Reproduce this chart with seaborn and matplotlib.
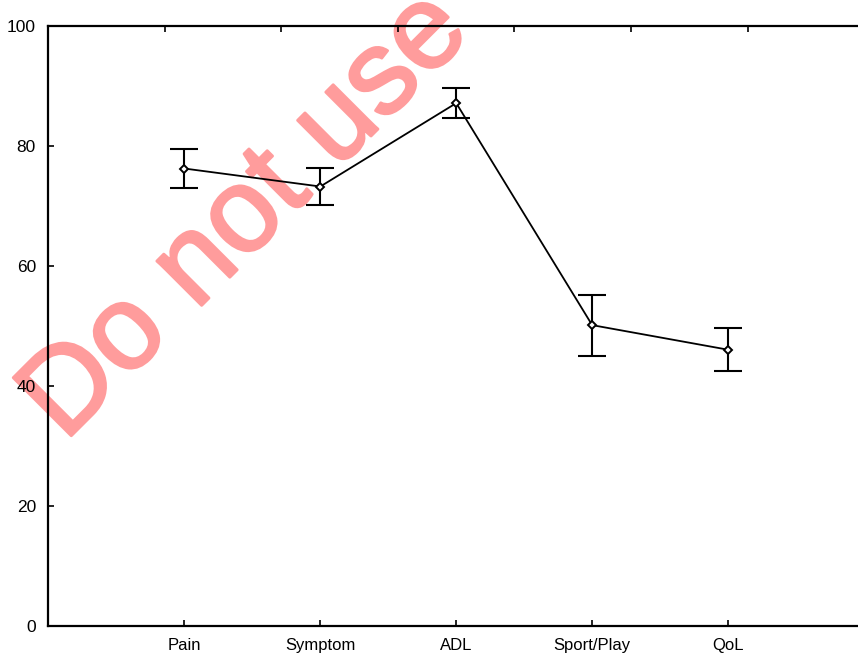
import numpy as np
import pandas as pd
import matplotlib
matplotlib.use('Agg')
import matplotlib.pyplot as plt
import matplotlib.patheffects as pe
import seaborn as sns

# values
domains = ['Pain', 'Symptom', 'ADL', 'Sport/Play', 'QoL']
means = [76.2, 73.2, 87.1, 50.1, 46.0]
upper = [79.5, 76.3, 89.7, 55.1, 49.7]
lower = [73.0, 70.1, 84.7, 45.0, 42.4]

sns.set_style('white')
plt.rcParams['font.family'] = ['Liberation Sans', 'DejaVu Sans']

df = pd.DataFrame({'domain': domains, 'score': means})

fig = plt.figure(figsize=(8.58, 6.53), dpi=100)
ax = fig.add_axes([0.0565, 0.0418, 0.9505, 0.9188])
ax.patch.set_visible(False)

# watermark sits under the plot
fig.text(0.075, 0.322, 'Do not use', rotation=45, rotation_mode='anchor',
         ha='left', va='baseline', fontsize=86, color='#ff9c9c', zorder=-1,
         path_effects=[pe.withStroke(linewidth=2, foreground='#ff9c9c')])

sns.pointplot(data=df, x='domain', y='score', order=domains, errorbar=None,
              color='black', markers='D', linestyles='-', linewidth=1.3,
              markersize=4.5, ax=ax)
for ln in ax.lines:
    ln.set_markerfacecolor('white')
    ln.set_markeredgecolor('black')
    ln.set_markeredgewidth(1.4)
    ln.set_zorder(4)

pos = np.arange(len(domains))
err = [np.array(means) - np.array(lower), np.array(upper) - np.array(means)]
ax.errorbar(pos, means, yerr=err, fmt='none', ecolor='black', elinewidth=1.5,
            capsize=10, capthick=1.5, zorder=3)

ax.set_xlim(-1, 5)
ax.set_ylim(0, 100)
ax.set_yticks([0, 20, 40, 60, 80, 100])
ax.set_xticks(pos)
ax.set_xticklabels(domains)
ax.set_xlabel('')
ax.set_ylabel('')

for side in ['left', 'bottom', 'top']:
    ax.spines[side].set_visible(True)
    ax.spines[side].set_color('black')
    ax.spines[side].set_linewidth(1.6)
ax.spines['right'].set_visible(False)

ax.tick_params(axis='both', direction='in', length=4, width=1.2, colors='black',
               labelsize=12.5, left=True, bottom=True)
ax.tick_params(axis='y', pad=9)
ax.tick_params(axis='x', pad=9, labelsize=12)

# top axis has its own ticks, 7 equal divisions
top = ax.twiny()
top.set_xlim(0, 7)
top.set_xticks(range(1, 7))
top.tick_params(axis='x', direction='in', length=4, width=1.2, top=True,
                labeltop=False, colors='black')
for s in top.spines.values():
    s.set_visible(False)

fig.savefig('out.png', dpi=100)
